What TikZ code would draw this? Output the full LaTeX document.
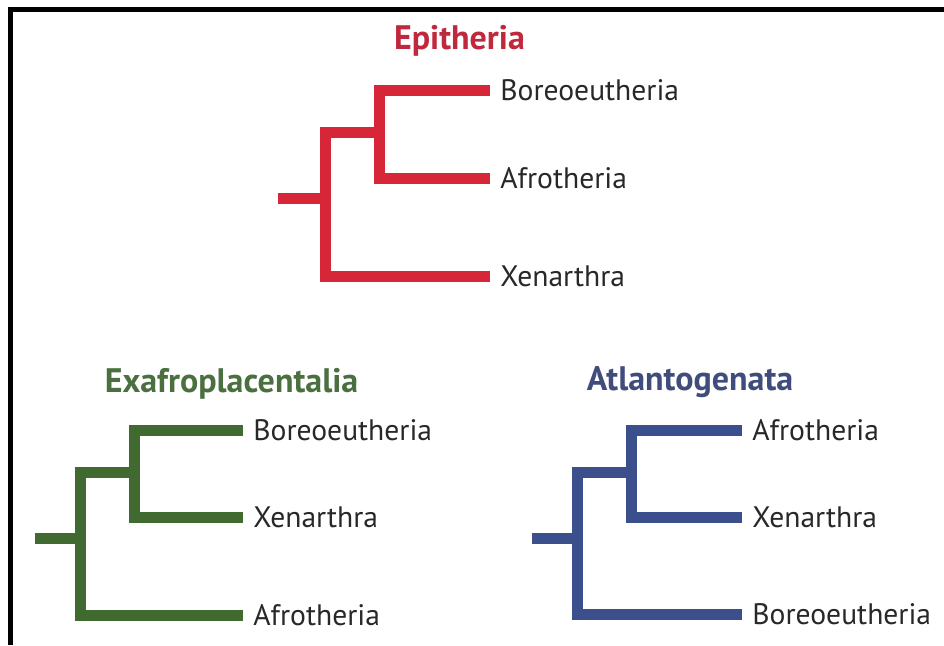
\documentclass[tikz,border=0pt]{standalone}
\usepackage{fontspec}
\setsansfont{PT Sans}
\usetikzlibrary{positioning}

\definecolor{epired}{RGB}{214,38,56}
\definecolor{epititle}{RGB}{192,40,62}
\definecolor{exagreen}{RGB}{64,106,48}
\definecolor{exatitle}{RGB}{74,112,64}
\definecolor{atlblue}{RGB}{58,79,140}
\definecolor{atltitle}{RGB}{64,76,124}
\definecolor{labelgray}{RGB}{40,40,40}

\begin{document}
\begin{tikzpicture}[x=0.5pt,y=-0.5pt]
\tikzset{
  taxon/.style={anchor=west,inner xsep=5pt,inner ysep=0pt,font=\sffamily\fontsize{14.8}{17}\selectfont,text=labelgray},
  cladetitle/.style={anchor=base,inner sep=0pt,font=\sffamily\bfseries\fontsize{17}{20}\selectfont},
  branch/.style={line width=5.5pt,line cap=butt,line join=miter},
  epibranch/.style={branch,draw=epired},
  exabranch/.style={branch,draw=exagreen},
  atlbranch/.style={branch,draw=atlblue}
}
\useasboundingbox (0,0) rectangle (944,645);
\draw[line width=2.5pt,line join=miter] (10.5,645) -- (10.5,9) -- (944,9);

% Epitheria
\node[cladetitle,text=epititle] (n_ep_title) at (459.5,49) {Epitheria};
\coordinate (n_ep_root) at (278,198);
\coordinate (n_ep_base) at (325,198);
\coordinate (n_ep_inner) at (379,132);
\node[taxon] (n_ep_bor) at (490,90.5) {Boreoeutheria};
\node[taxon] (n_ep_afr) at (490,178.5) {Afrotheria};
\node[taxon] (n_ep_xen) at (490,276) {Xenarthra};
\draw[epibranch] (n_ep_root) -- (n_ep_base);
\draw[epibranch] (n_ep_inner) -- (n_ep_inner -| n_ep_base) -- (n_ep_base |- n_ep_xen.west) -- (n_ep_xen.west);
\draw[epibranch] (n_ep_bor.west) -- (n_ep_inner |- n_ep_bor.west) -- (n_ep_inner |- n_ep_afr.west) -- (n_ep_afr.west);

% Exafroplacentalia
\node[cladetitle,text=exatitle] (n_ex_title) at (231.5,392) {Exafroplacentalia};
\coordinate (n_ex_root) at (35,538);
\coordinate (n_ex_base) at (80,538);
\coordinate (n_ex_inner) at (134,472);
\node[taxon] (n_ex_bor) at (243,430.5) {Boreoeutheria};
\node[taxon] (n_ex_xen) at (243,517.5) {Xenarthra};
\node[taxon] (n_ex_afr) at (243,615) {Afrotheria};
\draw[exabranch] (n_ex_root) -- (n_ex_base);
\draw[exabranch] (n_ex_inner) -- (n_ex_inner -| n_ex_base) -- (n_ex_base |- n_ex_afr.west) -- (n_ex_afr.west);
\draw[exabranch] (n_ex_bor.west) -- (n_ex_inner |- n_ex_bor.west) -- (n_ex_inner |- n_ex_xen.west) -- (n_ex_xen.west);

% Atlantogenata
\node[cladetitle,text=atltitle] (n_at_title) at (690,390) {Atlantogenata};
\coordinate (n_at_root) at (532,538);
\coordinate (n_at_base) at (577.5,538);
\coordinate (n_at_inner) at (631.5,472);
\node[taxon] (n_at_afr) at (742,430.5) {Afrotheria};
\node[taxon] (n_at_xen) at (742,517.5) {Xenarthra};
\node[taxon] (n_at_bor) at (742,614) {Boreoeutheria};
\draw[atlbranch] (n_at_root) -- (n_at_base);
\draw[atlbranch] (n_at_inner) -- (n_at_inner -| n_at_base) -- (n_at_base |- n_at_bor.west) -- (n_at_bor.west);
\draw[atlbranch] (n_at_afr.west) -- (n_at_inner |- n_at_afr.west) -- (n_at_inner |- n_at_xen.west) -- (n_at_xen.west);
\end{tikzpicture}
\end{document}
